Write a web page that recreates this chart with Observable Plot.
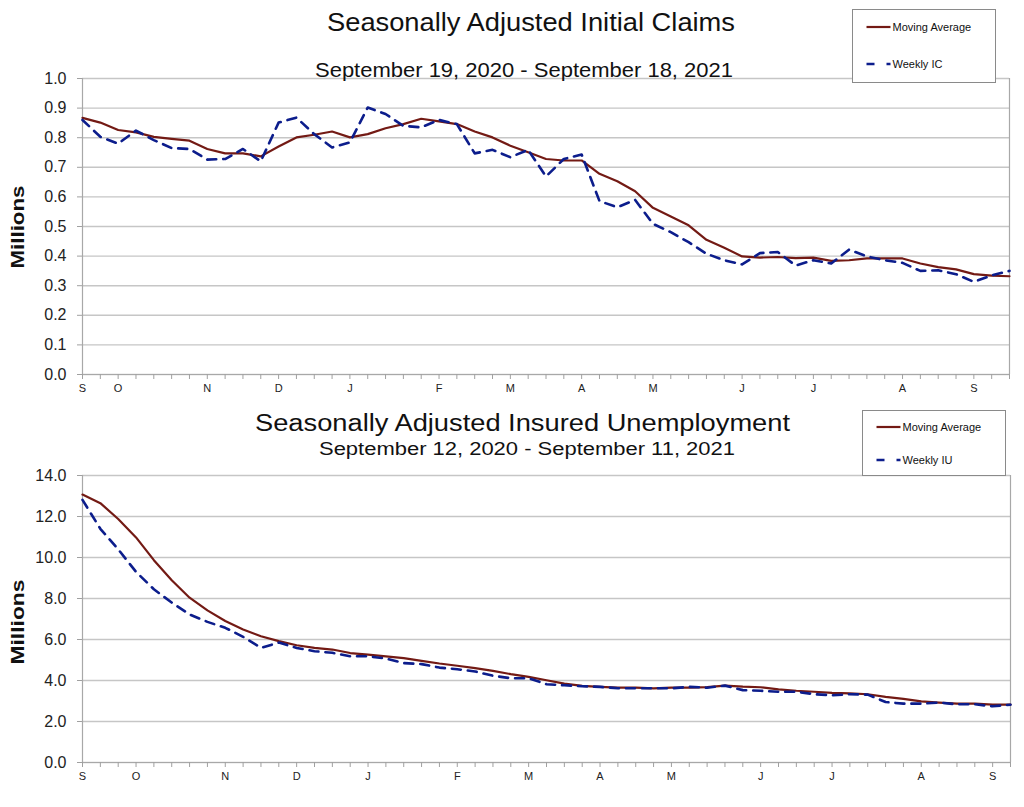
<!DOCTYPE html>
<html>
<head>
<meta charset="utf-8">
<script src="https://cdn.jsdelivr.net/npm/d3@7"></script>
<script src="https://cdn.jsdelivr.net/npm/@observablehq/plot@0.6"></script>
<style>
  html, body { margin: 0; padding: 0; background: #fff; }
  #root { position: relative; width: 1024px; height: 807px; background: #fff; overflow: hidden;
          font-family: "Liberation Sans", Arial, sans-serif; }
  .chart { position: absolute; left: 0; }
  #overlay { position: absolute; left: 0; top: 0; pointer-events: none; }
</style>
</head>
<body>
<div id="root">
  <div id="c1" class="chart" style="top:0px"></div>
  <div id="c2" class="chart" style="top:400px"></div>
</div>
<script>
// ---------- data ----------
const monthLetters = ["J","F","M","A","M","J","J","A","S","O","N","D"];

// Initial claims, weeks ending Sep 19, 2020 .. Sep 18, 2021 (millions)
const icStart = "2020-09-19";
const icMovingAvg = [0.867,0.851,0.826,0.818,0.803,0.796,0.790,0.762,0.747,0.747,0.737,0.770,0.801,0.810,0.821,0.801,0.812,0.832,
  0.846,0.864,0.855,0.846,0.821,0.801,0.773,0.751,0.728,0.723,0.723,0.678,0.653,0.619,0.563,0.534,0.504,
  0.455,0.428,0.399,0.395,0.397,0.393,0.395,0.384,0.386,0.392,0.392,0.392,0.375,0.363,0.355,0.339,0.334,0.332];
const icWeekly = [0.860,0.803,0.780,0.824,0.792,0.765,0.762,0.726,0.728,0.762,0.720,0.851,0.868,0.812,0.767,0.784,0.902,0.880,
  0.840,0.835,0.860,0.846,0.747,0.759,0.734,0.759,0.669,0.728,0.743,0.586,0.565,0.590,0.509,0.481,0.447,
  0.408,0.386,0.372,0.410,0.414,0.368,0.386,0.375,0.422,0.399,0.386,0.377,0.350,0.352,0.339,0.313,0.335,0.350];
const icTicks = [0,0.1,0.2,0.3,0.4,0.5,0.6,0.7,0.8,0.9,1.0];

// Insured unemployment, weeks ending Sep 12, 2020 .. Sep 11, 2021 (millions)
const iuStart = "2020-09-12";
const iuMovingAvg = [13.07,12.65,11.88,10.98,9.87,8.89,8.04,7.42,6.90,6.49,6.16,5.92,5.72,5.59,5.51,5.34,5.26,5.18,
  5.09,4.96,4.83,4.72,4.60,4.47,4.31,4.18,4.01,3.85,3.74,3.69,3.65,3.65,3.62,3.65,3.65,3.68,
  3.75,3.70,3.67,3.57,3.50,3.45,3.40,3.37,3.33,3.20,3.10,2.98,2.92,2.87,2.87,2.82,2.82];
const iuWeekly = [12.81,11.40,10.40,9.30,8.45,7.80,7.22,6.86,6.57,6.13,5.59,5.85,5.59,5.43,5.35,5.18,5.18,5.07,
  4.85,4.80,4.63,4.55,4.44,4.23,4.11,4.11,3.82,3.77,3.72,3.69,3.62,3.62,3.62,3.62,3.69,3.65,
  3.75,3.53,3.50,3.45,3.45,3.33,3.28,3.33,3.31,2.95,2.87,2.87,2.92,2.84,2.84,2.74,2.82];
const iuTicks = [0,2,4,6,8,10,12,14];

// ---------- helpers ----------
const MA_COLOR = "#731a14";
const WK_COLOR = "#0c1d8c";
const FONT = "'Liberation Sans', Arial, sans-serif";

function weeksFrom(start, n) {
  const t0 = new Date(start + "T00:00:00Z").getTime();
  return d3.range(n).map(i => new Date(t0 + i * 7 * 864e5));
}
function rows(dates, values) { return dates.map((d, i) => ({date: d, value: values[i]})); }
function monthLabel(d, i) {
  return (i === 0 || d.getUTCDate() <= 7) ? monthLetters[d.getUTCMonth()] : "";
}

function makeChart({dates, ma, wk, ticks, yMax, height, marginTop, marginBottom, marginRight}) {
  const labelMap = new Map(dates.map((d, i) => [+d, monthLabel(d, i)]));
  return Plot.plot({
    width: 1024,
    height,
    marginLeft: 82,
    marginRight,
    marginTop,
    marginBottom,
    style: {fontFamily: FONT, background: "transparent", overflow: "visible"},
    x: {type: "utc", domain: [dates[0], dates[dates.length - 1]]},
    y: {domain: [0, yMax]},
    marks: [
      Plot.ruleY(ticks, {stroke: "#c6c6c6", strokeWidth: 1.4}),
      Plot.ruleY([0], {stroke: "#a8a8a8", strokeWidth: 1.2}),
      Plot.ruleX([dates[0], dates[dates.length - 1]], {stroke: "#a8a8a8", strokeWidth: 1.2}),
      Plot.axisY({ticks, tickFormat: d3.format(".1f"), tickSize: 5, tickPadding: 11, fontSize: 16,
                  stroke: "#a0a0a0", fill: "#222", label: null}),
      Plot.axisX({ticks: dates, tickFormat: d => labelMap.get(+d), tickSize: 5, tickPadding: 5, fontSize: 11,
                  stroke: "#a0a0a0", fill: "#222", label: null}),
      Plot.line(rows(dates, ma), {x: "date", y: "value", stroke: MA_COLOR, strokeWidth: 2.2}),
      Plot.line(rows(dates, wk), {x: "date", y: "value", stroke: WK_COLOR, strokeWidth: 2.6,
                                  strokeDasharray: "9,7"})
    ]
  });
}

const icDates = weeksFrom(icStart, icWeekly.length);
const iuDates = weeksFrom(iuStart, iuWeekly.length);

document.getElementById("c1").appendChild(makeChart({
  dates: icDates, ma: icMovingAvg, wk: icWeekly, ticks: icTicks, yMax: 1.0,
  height: 400, marginTop: 78, marginBottom: 26, marginRight: 15
}));
document.getElementById("c2").appendChild(makeChart({
  dates: iuDates, ma: iuMovingAvg, wk: iuWeekly, ticks: iuTicks, yMax: 14,
  height: 407, marginTop: 75, marginBottom: 45, marginRight: 14
}));

// ---------- titles, legends, axis labels (overlay) ----------
const ov = d3.select("#root").append("svg")
  .attr("id", "overlay").attr("width", 1024).attr("height", 807)
  .style("font-family", FONT);

function fitText(x, y, str, size, len, opts = {}) {
  const t = ov.append("text").attr("x", x).attr("y", y).text(str)
    .attr("font-size", size).attr("fill", opts.fill || "#111")
    .attr("font-weight", opts.weight || "normal");
  if (len) t.attr("textLength", len).attr("lengthAdjust", "spacingAndGlyphs");
  if (opts.rotate) t.attr("transform", `rotate(-90 ${x} ${y})`).attr("text-anchor", "middle");
  return t;
}

fitText(327, 31, "Seasonally Adjusted Initial Claims", 25, 408);
fitText(315, 77, "September 19, 2020 - September 18, 2021", 20, 418);
fitText(255, 431, "Seasonally Adjusted Insured Unemployment", 23, 535);
fitText(319, 455, "September 12, 2020 - September 11, 2021", 18, 416);
fitText(24, 227, "Millions", 18, 83, {weight: "bold", rotate: true});
fitText(24, 622, "Millions", 18, 85, {weight: "bold", rotate: true});

function legend(x, y, w, h, row1, row2, label2) {
  ov.append("rect").attr("x", x).attr("y", y).attr("width", w).attr("height", h)
    .attr("fill", "#fff").attr("stroke", "#8a8a8a").attr("stroke-width", 1);
  const lx = x + 14;
  ov.append("line").attr("x1", lx).attr("x2", lx + 24).attr("y1", row1).attr("y2", row1)
    .attr("stroke", MA_COLOR).attr("stroke-width", 2.2);
  ov.append("line").attr("x1", lx).attr("x2", lx + 24).attr("y1", row2).attr("y2", row2)
    .attr("stroke", WK_COLOR).attr("stroke-width", 2.6).attr("stroke-dasharray", "8,12");
  ov.append("text").attr("x", lx + 26).attr("y", row1 + 4).attr("font-size", 11).attr("fill", "#111").text("Moving Average");
  ov.append("text").attr("x", lx + 26).attr("y", row2 + 4).attr("font-size", 11).attr("fill", "#111").text(label2);
}
legend(852.5, 9.5, 143, 73, 27, 64, "Weekly IC");
legend(862.5, 410.5, 143, 65, 427, 460, "Weekly IU");
</script>
</body>
</html>
